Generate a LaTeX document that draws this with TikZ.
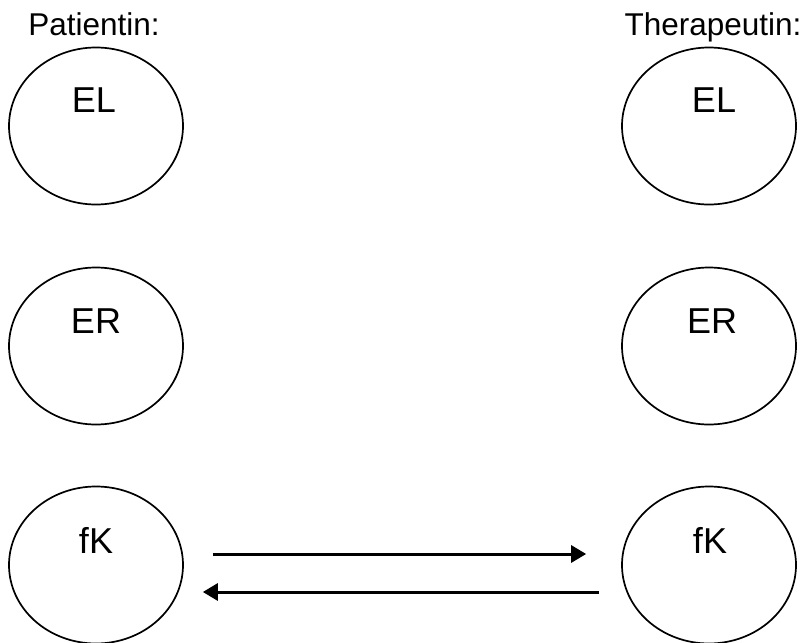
\documentclass[tikz,border=0pt]{standalone}
\usepackage{fontspec}
\setmainfont{Liberation Sans}
\usetikzlibrary{shapes.geometric,arrows.meta}
\begin{document}
\begin{tikzpicture}[x=1pt,y=-1pt,
  ego/.style={ellipse,draw=black,line width=1.7pt,minimum width=174pt,minimum height=157pt,inner sep=0pt},
  egotext/.style={font=\fontsize{36}{40}\selectfont,inner sep=0pt},
  heading/.style={font=\fontsize{31.5}{34}\selectfont,inner sep=0pt,anchor=base},
  flow/.style={line width=3pt,-{Triangle[length=15pt,width=17pt]}}]
\useasboundingbox (0,0) rectangle (804,643);
% column headings
\node[heading] (hp) at (94,35) {Patientin:};
\node[heading] (ht) at (713,35) {Therapeutin:};
% ego states, left column
\node[ego] (pEL) at (96,126) {};
\node[ego] (pER) at (96,346) {};
\node[ego] (pfK) at (96,565) {};
% ego states, right column
\node[ego] (tEL) at (709,126) {};
\node[ego] (tER) at (709,346) {};
\node[ego] (tfK) at (709,565) {};
% labels in the upper part of each circle
\node[egotext] (lpEL) at (94,100) {EL};
\node[egotext] (lpER) at (96,321) {ER};
\node[egotext] (lpfK) at (96,540) {fK};
\node[egotext] (ltEL) at (714,100) {EL};
\node[egotext] (ltER) at (712,321) {ER};
\node[egotext] (ltfK) at (710,540) {fK};
% transactions between the two child states
\draw[flow] ([xshift=29pt,yshift=11pt]pfK.east) -- ([xshift=-35pt,yshift=11pt]tfK.west);
\draw[flow] ([xshift=-22pt,yshift=-27pt]tfK.west) -- ([xshift=19pt,yshift=-27pt]pfK.east);
\end{tikzpicture}
\end{document}
